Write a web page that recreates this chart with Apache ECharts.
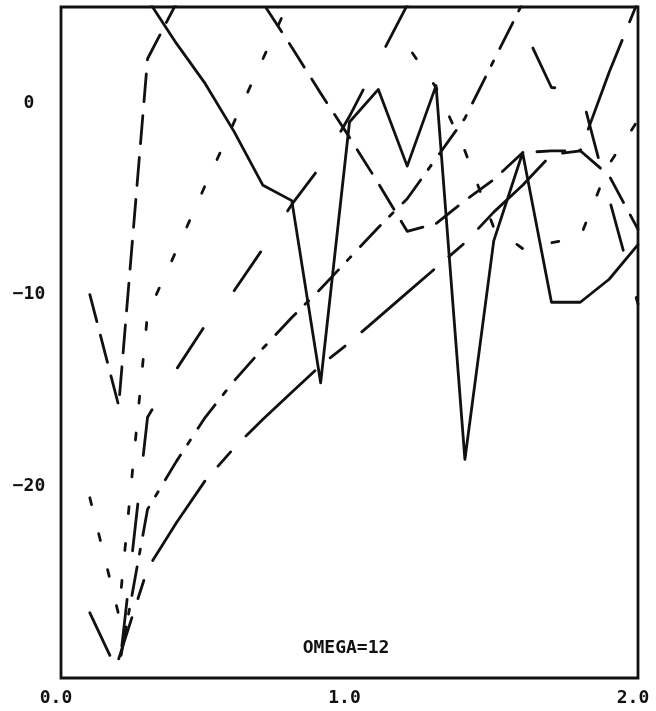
<!DOCTYPE html>
<html>
<head>
<meta charset="utf-8">
<script src="https://cdn.jsdelivr.net/npm/echarts@6/dist/echarts.min.js"></script>
<style>
  html, body { margin: 0; padding: 0; background: #fff; }
  #chart { width: 656px; height: 711px; }
</style>
</head>
<body>
<div id="chart"></div>
<script>
// Sample positions along the horizontal axis
const xs = [0.1, 0.2, 0.3, 0.4, 0.5, 0.6, 0.7, 0.8, 0.9, 1.0,
            1.1, 1.2, 1.3, 1.4, 1.5, 1.6, 1.7, 1.8, 1.9, 2.0];

// Curve values (null = not plotted at that position)
const curveSolid = [null, null, 5.4, 3.1, 1.0, -1.5, -4.3, -5.1, -14.6, -1.0,
                    0.7, -3.3, 0.9, -18.6, -7.2, -2.6, -10.4, -10.4, -9.2, -7.4];
const curveLongDash = [-10.0, -15.8, 2.3, 5.2, null, null, 5.2, 2.9, 0.5, -1.8,
                       -4.2, -6.7, -6.3, -5.1, -4.0, -2.6, -2.5, -2.5, -3.8, -6.6];
const curveShortDash = [-20.6, -26.7, -11.0, -7.7, -4.3, -1.0, 2.3, 5.6, null, null,
                        null, 3.0, 0.8, -2.5, -6.5, -7.6, -7.3, -7.0, -3.2, -0.9];
const curveWideDash = [-26.6, -29.8, -16.4, -13.9, -11.6, -9.8, -7.6, -5.3, -3.3, -0.7,
                       2.2, 5.1, null, null, null, 4.0, 0.8, 0.7, -5.0, -10.5];
const curveDashDot = [null, -29.5, -21.2, -18.7, -16.4, -14.5, -12.8, -11.2, -9.7, -8.1,
                      -6.5, -5.0, -2.9, -0.8, 2.2, 5.2, null, null, null, null];
const curveLongShort = [null, -29.0, -24.3, -21.9, -19.7, -18.0, -16.5, -15.1, -13.7, -12.5,
                        -11.2, -9.9, -8.6, -7.3, -5.7, -4.3, -2.7, -2.5, 1.6, 5.3];

// Axis tick labels
const xTickLabels = ['0.0', '1.0', '2.0'];
const yTickValues = [0, -10, -20];

const caption = 'OMEGA=12';

const INK = '#111';
const FONT = '"DejaVu Sans Mono", "Liberation Mono", monospace';
const PEN = 2.8;

// Pen styles: dash pattern plus a phase for each unbroken stretch of a curve
const curves = [
  { name: 'solid', values: curveSolid, dash: 'solid', phase: [0] },
  { name: 'long dash', values: curveLongDash, dash: [28, 14], phase: [0, 35.8] },
  { name: 'short dash', values: curveShortDash, dash: [7, 30], phase: [0, 27.8] },
  { name: 'wide dash', values: curveWideDash, dash: [47, 49], phase: [0, 71.8] },
  { name: 'dash dot', values: curveDashDot, dash: [29, 13, 5, 14], phase: [47.8] },
  { name: 'long short', values: curveLongShort, dash: [95, 20, 19, 22], phase: [51.7] }
];

// Split a value list into unbroken runs of [x, y] pairs
function runsOf(values) {
  const runs = [];
  let cur = null;
  values.forEach((v, i) => {
    if (v === null) { cur = null; return; }
    if (!cur) { cur = []; runs.push(cur); }
    cur.push([xs[i], v]);
  });
  return runs;
}

const series = [];
curves.forEach(c => {
  runsOf(c.values).forEach((run, k) => {
    series.push({
      name: c.name,
      type: 'line',
      data: run,
      showSymbol: false,
      symbol: 'none',
      clip: true,
      animation: false,
      silent: true,
      lineStyle: {
        color: INK, width: PEN, type: c.dash,
        dashOffset: c.phase[k] || 0,
        cap: 'round', join: 'round'
      }
    });
  });
});

const chart = echarts.init(document.getElementById('chart'), null, { renderer: 'canvas' });

chart.setOption({
  backgroundColor: '#fff',
  animation: false,
  grid: {
    left: 61, right: 18, top: 7, bottom: 33,
    show: true, borderColor: INK, borderWidth: PEN, backgroundColor: 'transparent'
  },
  xAxis: {
    type: 'value',
    min: 0, max: 2, interval: 1,
    axisLine: { show: false },
    axisTick: { show: false },
    splitLine: { show: false },
    axisLabel: {
      margin: 11,
      color: INK,
      fontFamily: FONT,
      fontWeight: 'bold',
      fontSize: 18,
      padding: [0, 10, 0, 0],
      formatter: function (v) {
        const idx = Math.round(v);
        return xTickLabels[idx] !== undefined ? xTickLabels[idx] : '';
      }
    }
  },
  yAxis: {
    type: 'value',
    min: -30, max: 5, interval: 10,
    axisLine: { show: false },
    axisTick: { show: false },
    splitLine: { show: false },
    axisLabel: {
      showMinLabel: false,
      showMaxLabel: false,
      margin: 32,
      align: 'center',
      color: INK,
      fontFamily: FONT,
      fontWeight: 'bold',
      fontSize: 18,
      formatter: function (v) {
        if (yTickValues.indexOf(v) < 0) return '';
        return v < 0 ? '\u2212' + Math.abs(v) : String(v);
      }
    }
  },
  graphic: [{
    type: 'text',
    x: 346, y: 648,
    silent: true,
    style: {
      text: caption,
      fill: INK,
      font: 'bold 18px ' + FONT,
      align: 'center',
      verticalAlign: 'middle'
    }
  }],
  series: series
});
</script>
</body>
</html>
